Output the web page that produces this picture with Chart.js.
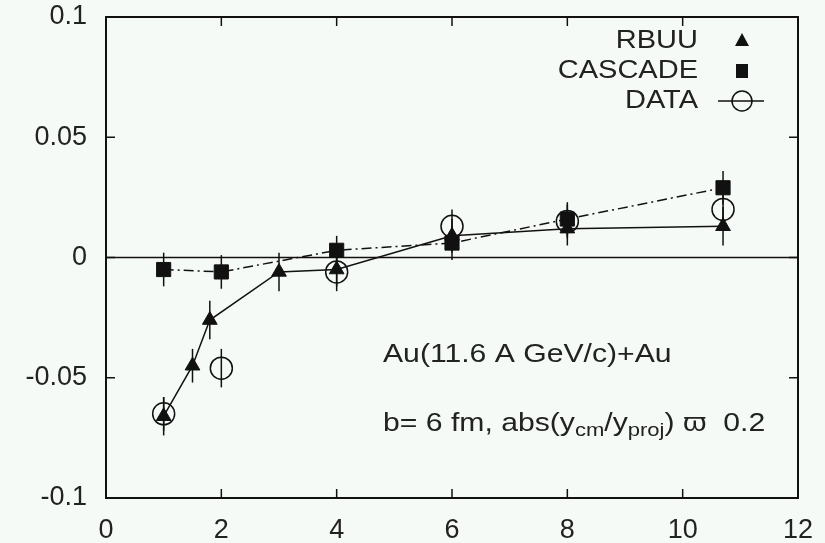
<!DOCTYPE html>
<html>
<head>
<meta charset="utf-8">
<script src="https://cdn.jsdelivr.net/npm/chart.js@4.4.1/dist/chart.umd.min.js"></script>
<style>
  html, body { margin: 0; padding: 0; background: #f6faf6; }
  #wrap { width: 825px; height: 543px; }
</style>
</head>
<body>
<div id="wrap"><canvas id="flow-chart"></canvas></div>
<script>
// RBUU (triangles, solid line)
const xRbuu = [1, 1.5, 1.8, 3, 4, 6, 8, 10.7];
const yRbuu = [-0.066, -0.045, -0.026, -0.006, -0.005, 0.009, 0.012, 0.013];
const eRbuu = [0.008, 0.007, 0.008, 0.008, 0.007, 0.007, 0.007, 0.008];

// CASCADE (squares, dash-dot line)
const xCascade = [1, 2, 4, 6, 8, 10.7];
const yCascade = [-0.005, -0.006, 0.003, 0.006, 0.016, 0.029];
const eCascade = [0.007, 0.007, 0.006, 0.007, 0.007, 0.007];

// DATA (open circles)
const xData = [1, 2, 4, 6, 8, 10.7];
const yData = [-0.065, -0.046, -0.006, 0.013, 0.015, 0.020];
const eData = [0.007, 0.008, 0.008, 0.007, 0.007, 0.008];

const xTicks = [0, 2, 4, 6, 8, 10, 12];
const yTicks = [-0.1, -0.05, 0, 0.05, 0.1];
const legendNames = ['RBUU', 'CASCADE', 'DATA'];
const noteLine1 = 'Au(11.6 A GeV/c)+Au';

const FONT = '"Liberation Sans", Arial, sans-serif';
const STRETCH = 1.16; // the text in the picture is drawn a bit wide
const pts = (xs, ys) => xs.map((x, i) => ({ x: x, y: ys[i] }));

const frame = {
  id: 'frame',
  beforeDatasetsDraw(chart) {
    const { ctx, chartArea: a, scales: { x, y } } = chart;
    ctx.save();
    ctx.strokeStyle = '#111';
    ctx.lineWidth = 1.5;
    // zero line
    ctx.beginPath();
    ctx.moveTo(a.left, y.getPixelForValue(0));
    ctx.lineTo(a.right, y.getPixelForValue(0));
    ctx.stroke();
    // error bars
    chart.data.datasets.forEach((ds) => {
      ds.data.forEach((p, i) => {
        const px = x.getPixelForValue(p.x);
        ctx.beginPath();
        ctx.moveTo(px, y.getPixelForValue(p.y - ds.err[i]));
        ctx.lineTo(px, y.getPixelForValue(p.y + ds.err[i]));
        ctx.stroke();
      });
    });
    ctx.restore();
  },
  afterDraw(chart) {
    const { ctx, chartArea: a, scales: { x, y } } = chart;
    ctx.save();
    ctx.strokeStyle = '#111';
    ctx.lineWidth = 2;
    ctx.strokeRect(a.left, a.top, a.right - a.left, a.bottom - a.top);
    ctx.lineWidth = 1.5;
    ctx.beginPath();
    xTicks.forEach((v) => {
      const px = x.getPixelForValue(v);
      ctx.moveTo(px, a.bottom); ctx.lineTo(px, a.bottom - 9);
      ctx.moveTo(px, a.top); ctx.lineTo(px, a.top + 9);
    });
    yTicks.forEach((v) => {
      const py = y.getPixelForValue(v);
      ctx.moveTo(a.left, py); ctx.lineTo(a.left + 9, py);
      ctx.moveTo(a.right, py); ctx.lineTo(a.right - 9, py);
    });
    ctx.stroke();

    // legend symbols
    ctx.fillStyle = '#111';
    const ly = [41, 71, 101];
    const sx = 742;
    ctx.beginPath();
    ctx.moveTo(sx, ly[0] - 8); ctx.lineTo(sx + 7, ly[0] + 5); ctx.lineTo(sx - 7, ly[0] + 5);
    ctx.closePath(); ctx.fill();
    ctx.fillRect(sx - 6, ly[1] - 7, 12, 14);
    ctx.beginPath();
    ctx.moveTo(sx - 24, ly[2]); ctx.lineTo(sx + 22, ly[2]);
    ctx.moveTo(sx + 10, ly[2]); ctx.arc(sx, ly[2], 10, 0, Math.PI * 2);
    ctx.stroke();

    // stretched texts
    ctx.fillStyle = '#222';
    ctx.textBaseline = 'middle';
    ctx.scale(STRETCH, 1);
    ctx.font = '25px ' + FONT;
    ctx.textAlign = 'right';
    legendNames.forEach((n, i) => ctx.fillText(n, 698 / STRETCH, ly[i]));

    ctx.textAlign = 'left';
    ctx.font = '26px ' + FONT;
    ctx.fillText(noteLine1, 383 / STRETCH, 355);
    let tx = 383 / STRETCH;
    const ty = 424;
    const part = (s, size, dy) => {
      ctx.font = size + 'px ' + FONT;
      ctx.fillText(s, tx, ty + dy);
      tx += ctx.measureText(s).width;
    };
    part('b= 6 fm, abs(y', 26, 0);
    part('cm', 19, 7);
    part('/y', 26, 0);
    part('proj', 19, 7);
    part(') \u03d6  0.2', 26, 0);
    ctx.restore();
  },
};

new Chart(document.getElementById('flow-chart'), {
  type: 'scatter',
  data: {
    datasets: [
      {
        label: 'RBUU',
        data: pts(xRbuu, yRbuu),
        err: eRbuu,
        showLine: true,
        borderColor: '#111',
        backgroundColor: '#111',
        borderWidth: 1.5,
        pointStyle: 'triangle',
        pointRadius: 8.5,
        pointBorderWidth: 1,
      },
      {
        label: 'CASCADE',
        data: pts(xCascade, yCascade),
        err: eCascade,
        showLine: true,
        borderColor: '#111',
        backgroundColor: '#111',
        borderWidth: 1.5,
        borderDash: [10, 4, 2, 4],
        pointStyle: 'rect',
        pointRadius: 10,
        pointBorderWidth: 1,
      },
      {
        label: 'DATA',
        data: pts(xData, yData),
        err: eData,
        showLine: false,
        borderColor: '#111',
        backgroundColor: 'rgba(0,0,0,0)',
        pointStyle: 'circle',
        pointRadius: 11,
        pointBorderWidth: 1.5,
      },
    ],
  },
  options: {
    responsive: true,
    maintainAspectRatio: false,
    animation: false,
    layout: { padding: { top: 17, right: 27, left: 0, bottom: 0 } },
    scales: {
      x: {
        type: 'linear',
        min: 0,
        max: 12,
        afterFit: (s) => { s.height = 45; s.paddingLeft = 0; s.paddingRight = 0; },
        afterBuildTicks: (s) => { s.ticks = xTicks.map((v) => ({ value: v })); },
        grid: { display: false, drawTicks: false },
        border: { display: false },
        ticks: {
          padding: 16,
          color: '#222',
          font: { family: FONT, size: 27 },
        },
      },
      y: {
        type: 'linear',
        min: -0.1,
        max: 0.1,
        afterFit: (s) => { s.width = 106; s.paddingTop = 0; s.paddingBottom = 0; },
        afterBuildTicks: (s) => { s.ticks = yTicks.map((v) => ({ value: v })); },
        grid: { display: false, drawTicks: false },
        border: { display: false },
        ticks: {
          padding: 19,
          color: '#222',
          font: { family: FONT, size: 27 },
          callback: (v) => String(Math.round(v * 100) / 100),
        },
      },
    },
    plugins: {
      legend: { display: false },
      tooltip: { enabled: false },
    },
  },
  plugins: [frame],
});
</script>
</body>
</html>
